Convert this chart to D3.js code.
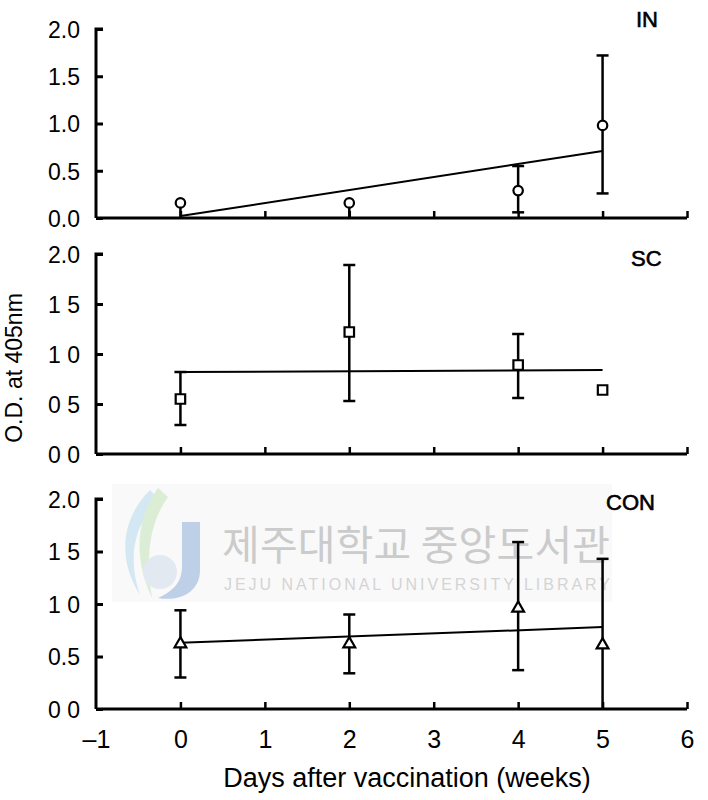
<!DOCTYPE html>
<html>
<head>
<meta charset="utf-8">
<script src="https://cdn.jsdelivr.net/npm/d3@7"></script>
<style>
  body { margin: 0; background: #fff; }
  svg { display: block; font-family: "Liberation Sans", Arial, sans-serif; }
  .axis path, .axis line { stroke: #000; }
  .axis text { fill: #000; }
</style>
</head>
<body>
<svg id="chart" width="708" height="800"></svg>
<script>
// weeks after vaccination
var weeks = [0, 2, 4, 5];

// IN group (circles)
var inMean = [0.16, 0.16, 0.29, 0.98];
var inLow  = [0.00, 0.00, 0.06, 0.26];
var inHigh = [0.16, 0.16, 0.55, 1.72];
var inFit  = [0.02, 0.71];

// SC group (squares), last point has no error bar
var scMean = [0.55, 1.22, 0.89, 0.64];
var scLow  = [0.29, 0.53, 0.56, null];
var scHigh = [0.82, 1.89, 1.20, null];
var scFit  = [0.82, 0.84];

// CON group (triangles)
var conMean = [0.62, 0.62, 0.96, 0.61];
var conLow  = [0.30, 0.34, 0.37, 0.00];
var conHigh = [0.94, 0.90, 1.59, 1.43];
var conFit  = [0.63, 0.78];

var fitWeeks = [0, 5];

var xTicks = [-1, 0, 1, 2, 3, 4, 5, 6];
var xTickLabels = ["\u20131", "0", "1", "2", "3", "4", "5", "6"];
var yTicks = [0, 0.5, 1, 1.5, 2];
var inTickLabels  = ["0.0", "0.5", "1.0", "1.5", "2.0"];
var scTickLabels  = ["0 0", "0 5", "1 0", "1 5", "2.0"];
var conTickLabels = ["0 0", "0.5", "1 0", "1 5", "2.0"];

var svg = d3.select("#chart");

var x = d3.scaleLinear().domain([-1, 6]).range([96, 687]);

// watermark (drawn first, under the data)
var wm = svg.append("g").attr("class", "watermark");
wm.append("rect")
	.attr("x", 112).attr("y", 484).attr("width", 500).attr("height", 118)
	.attr("fill", "#f9f9f9");
wm.append("path")
	.attr("d", "M150,490 C120,520 118,560 140,595 C128,560 132,525 160,500 Z")
	.attr("fill", "#d3e8f2");
wm.append("path")
	.attr("d", "M158,488 C135,520 134,560 152,598 C146,560 148,525 168,497 Z")
	.attr("fill", "#dcedd6");
wm.append("path")
	.attr("d", "M182,522 L200,522 L200,570 C200,592 180,602 158,598 C176,590 182,580 182,566 Z")
	.attr("fill", "#bed0e8");
wm.append("circle")
	.attr("cx", 160).attr("cy", 572).attr("r", 17)
	.attr("fill", "#e2e9f1");
wm.append("text")
	.attr("x", 222).attr("y", 560)
	.attr("font-family", "'Noto Sans CJK KR', sans-serif")
	.attr("font-size", 41)
	.attr("fill", "#cbcbcb")
	.attr("textLength", 388)
	.text("제주대학교 중앙도서관");
wm.append("text")
	.attr("x", 224).attr("y", 590)
	.attr("font-size", 16)
	.attr("fill", "#d4d4d4")
	.attr("textLength", 386)
	.text("JEJU NATIONAL UNIVERSITY   LIBRARY");

var panels = [
	{ name: "IN",  shape: "circle",   mean: inMean,  low: inLow,  high: inHigh,  fit: inFit,
	  range: [218, 29],  ticks: inTickLabels,  label: [636, 27] },
	{ name: "SC",  shape: "square",   mean: scMean,  low: scLow,  high: scHigh,  fit: scFit,
	  range: [454, 254], ticks: scTickLabels,  label: [631, 266] },
	{ name: "CON", shape: "triangle", mean: conMean, low: conLow, high: conHigh, fit: conFit,
	  range: [709, 499], ticks: conTickLabels, label: [606, 510] }
];

function drawPanel(p, isLast)
{
	var y = d3.scaleLinear().domain([0, 2]).range(p.range);
	var g = svg.append("g").attr("class", "panel");

	// y axis, ticks pointing in
	var yAxis = d3.axisRight(y)
		.tickValues(yTicks)
		.tickSize(7)
		.tickFormat(function (d, i) { return p.ticks[i]; });
	var ya = g.append("g")
		.attr("class", "axis")
		.attr("transform", "translate(" + x(-1) + ",0)")
		.call(yAxis);
	ya.select(".domain").attr("stroke-width", 3).attr("d",
		"M" + 7 + "," + y(2) + "H0V" + y(0));
	ya.selectAll(".tick line").attr("stroke-width", 3);
	ya.selectAll(".tick text")
		.attr("x", -16)
		.attr("dy", "0.36em")
		.attr("text-anchor", "end")
		.attr("font-size", 23);

	// x axis, ticks pointing up
	var xAxis = d3.axisTop(x)
		.tickValues(xTicks.slice(1))
		.tickSize(7)
		.tickFormat("");
	var xa = g.append("g")
		.attr("class", "axis")
		.attr("transform", "translate(0," + y(0) + ")")
		.call(xAxis);
	xa.select(".domain").attr("stroke-width", 3)
		.attr("d", "M" + x(-1) + ",0H" + x(6));
	xa.selectAll(".tick line").attr("stroke-width", 2.5);

	if (isLast) {
		var xb = g.append("g")
			.attr("class", "axis")
			.attr("transform", "translate(0," + y(0) + ")")
			.call(d3.axisBottom(x)
				.tickValues(xTicks)
				.tickSize(0)
				.tickPadding(21)
				.tickFormat(function (d, i) { return xTickLabels[i]; }));
		xb.select(".domain").remove();
		xb.selectAll("text").attr("font-size", 25);
	}

	// regression line
	g.append("line")
		.attr("x1", x(fitWeeks[0])).attr("y1", y(p.fit[0]))
		.attr("x2", x(fitWeeks[1])).attr("y2", y(p.fit[1]))
		.attr("stroke", "#000")
		.attr("stroke-width", 2);

	var pts = weeks.map(function (w, i) {
		return { w: w, m: p.mean[i], lo: p.low[i], hi: p.high[i] };
	});

	// error bars
	var eb = g.selectAll("g.err")
		.data(pts.filter(function (d) { return d.lo !== null; }))
		.enter().append("g")
		.attr("class", "err")
		.attr("stroke", "#000")
		.attr("stroke-width", 2.5);
	eb.append("line")
		.attr("x1", function (d) { return x(d.w); })
		.attr("x2", function (d) { return x(d.w); })
		.attr("y1", function (d) { return y(d.lo); })
		.attr("y2", function (d) { return y(d.hi); });
	eb.filter(function (d) { return d.hi > d.m; }).append("line")
		.attr("x1", function (d) { return x(d.w) - 6; })
		.attr("x2", function (d) { return x(d.w) + 6; })
		.attr("y1", function (d) { return y(d.hi); })
		.attr("y2", function (d) { return y(d.hi); });
	eb.filter(function (d) { return d.lo > 0; }).append("line")
		.attr("x1", function (d) { return x(d.w) - 6; })
		.attr("x2", function (d) { return x(d.w) + 6; })
		.attr("y1", function (d) { return y(d.lo); })
		.attr("y2", function (d) { return y(d.lo); });

	// markers
	var symType = { circle: d3.symbolCircle, square: d3.symbolSquare, triangle: d3.symbolTriangle };
	var symSize = { circle: 70, square: 90, triangle: 60 };
	g.selectAll("path.mark")
		.data(pts)
		.enter().append("path")
		.attr("class", "mark")
		.attr("d", d3.symbol().type(symType[p.shape]).size(symSize[p.shape]))
		.attr("transform", function (d) { return "translate(" + x(d.w) + "," + y(d.m) + ")"; })
		.attr("fill", "#fff")
		.attr("stroke", "#000")
		.attr("stroke-width", 2.2);

	// panel name
	g.append("text")
		.attr("x", p.label[0]).attr("y", p.label[1])
		.attr("font-size", 22)
		.attr("stroke", "#000")
		.attr("stroke-width", 0.6)
		.text(p.name);
}

panels.forEach(function (p, i) { drawPanel(p, i === panels.length - 1); });

// axis titles
svg.append("text")
	.attr("transform", "translate(22,368) rotate(-90)")
	.attr("text-anchor", "middle")
	.attr("font-size", 23)
	.text("O.D. at 405nm");

svg.append("text")
	.attr("x", 407).attr("y", 787)
	.attr("text-anchor", "middle")
	.attr("font-size", 27)
	.text("Days after vaccination (weeks)");
</script>
</body>
</html>
